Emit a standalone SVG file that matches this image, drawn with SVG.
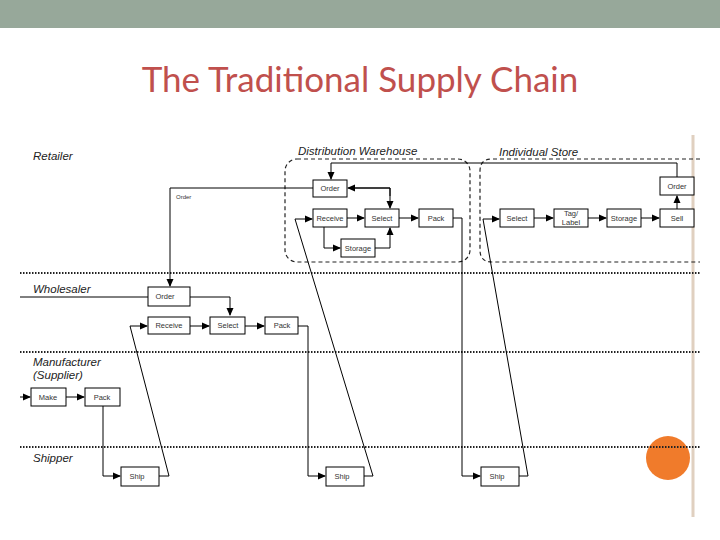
<svg xmlns="http://www.w3.org/2000/svg" width="720" height="540" viewBox="0 0 720 540">
<defs>
<marker id="a" markerWidth="8" markerHeight="8" refX="7" refY="4" orient="auto" markerUnits="userSpaceOnUse"><path d="M0,0.5 L8,4 L0,7.5 Z" fill="#000"/></marker>
<style>
.b{fill:#fff;stroke:#000;stroke-width:1}
.t{font-family:"Liberation Sans",Arial,sans-serif;font-size:7.5px;text-anchor:middle;fill:#333}
.l{font-family:"Liberation Sans",Arial,sans-serif;font-size:11.5px;font-style:italic;fill:#222}
.c{fill:none;stroke:#000;stroke-width:1}
.d{fill:none;stroke:#222;stroke-width:1.2;stroke-dasharray:4 3}
.s{stroke:#222;stroke-width:2;stroke-dasharray:1.5 1.5}
</style>
</defs>
<rect width="720" height="540" fill="#fff"/>
<rect width="720" height="28" fill="#97a89a"/>
<text x="360" y="92" font-family="Lato,'Open Sans',sans-serif" font-size="35" fill="#c0504d" text-anchor="middle">The Traditional Supply Chain</text>
<line x1="693" y1="135" x2="693" y2="517" stroke="#e0d0c0" stroke-width="3"/>
<circle cx="668" cy="458" r="22" fill="#f07b2b"/>
<g id="lanes">
<line class="s" x1="20" y1="273" x2="700" y2="273"/>
<line class="s" x1="20" y1="352" x2="700" y2="352"/>
<line class="s" x1="20" y1="447" x2="700" y2="447"/>
<text class="l" x="33" y="160">Retailer</text>
<text class="l" x="33" y="293">Wholesaler</text>
<text class="l" x="33" y="366">Manufacturer</text>
<text class="l" x="33" y="379">(Supplier)</text>
<text class="l" x="33" y="462">Shipper</text>
<text class="l" x="298" y="155">Distribution Warehouse</text>
<text class="l" x="499" y="156">Individual Store</text>
<rect class="d" x="285" y="159" width="185" height="103" rx="12"/>
<path class="d" d="M700,159 H492 Q480,159 480,171 V250 Q480,262 492,262 H700"/>
</g>
<g id="connectors">
<path class="c" d="M677,177 V163 H331 V179" marker-end="url(#a)"/>
<path class="c" d="M313,188 H170 V286" marker-end="url(#a)"/>
<text x="176" y="199" font-family="Liberation Sans,sans-serif" font-size="6" fill="#333">Order</text>
<path class="c" d="M355,188 H390 V208" marker-end="url(#a)"/>
<path class="c" d="M390,196 V188 H348" marker-end="url(#a)"/>
<line class="c" x1="347" y1="218" x2="364" y2="218" marker-end="url(#a)"/>
<line class="c" x1="399" y1="218" x2="418" y2="218" marker-end="url(#a)"/>
<path class="c" d="M324,227 V248 H340" marker-end="url(#a)"/>
<path class="c" d="M375,248 H390 V228" marker-end="url(#a)"/>
<path class="c" d="M453,218 H462 V476 H480" marker-end="url(#a)"/>
<path class="c" d="M519,476 H528 L483,219 H499" marker-end="url(#a)"/>
<line class="c" x1="534" y1="218" x2="553" y2="218" marker-end="url(#a)"/>
<line class="c" x1="588" y1="218" x2="606" y2="218" marker-end="url(#a)"/>
<line class="c" x1="641" y1="218" x2="659" y2="218" marker-end="url(#a)"/>
<line class="c" x1="677" y1="209" x2="677" y2="196" marker-end="url(#a)"/>
<path class="c" d="M20,297 H148"/>
<path class="c" d="M190,297 H230 V315" marker-end="url(#a)"/>
<line class="c" x1="190" y1="326" x2="209" y2="326" marker-end="url(#a)"/>
<line class="c" x1="245" y1="326" x2="264" y2="326" marker-end="url(#a)"/>
<path class="c" d="M298,326 H308 V476 H325" marker-end="url(#a)"/>
<path class="c" d="M364,476 H373 L295,219 H312" marker-end="url(#a)"/>
<path class="c" d="M159,476 H169 L130,326 H147" marker-end="url(#a)"/>
<line class="c" x1="20" y1="397" x2="30" y2="397" marker-end="url(#a)"/>
<line class="c" x1="66" y1="397" x2="84" y2="397" marker-end="url(#a)"/>
<path class="c" d="M103,406 V476 H120" marker-end="url(#a)"/>
</g>
<g id="dw-order"><rect class="b" x="313" y="180" width="34" height="17"/><text class="t" x="330" y="191">Order</text></g>
<g id="dw-receive"><rect class="b" x="313" y="209" width="34" height="18"/><text class="t" x="330" y="221">Receive</text></g>
<g id="dw-select"><rect class="b" x="365" y="209" width="34" height="18"/><text class="t" x="382" y="221">Select</text></g>
<g id="dw-pack"><rect class="b" x="419" y="209" width="34" height="18"/><text class="t" x="436" y="221">Pack</text></g>
<g id="dw-storage"><rect class="b" x="341" y="239" width="34" height="18"/><text class="t" x="358" y="251">Storage</text></g>
<g id="st-select"><rect class="b" x="500" y="209" width="34" height="18"/><text class="t" x="517" y="221">Select</text></g>
<g id="st-tag"><rect class="b" x="554" y="209" width="34" height="18"/><text class="t" x="571" y="216">Tag/</text><text class="t" x="571" y="225">Label</text></g>
<g id="st-storage"><rect class="b" x="607" y="209" width="34" height="18"/><text class="t" x="624" y="221">Storage</text></g>
<g id="st-sell"><rect class="b" x="660" y="209" width="34" height="18"/><text class="t" x="677" y="221">Sell</text></g>
<g id="st-order"><rect class="b" x="660" y="177" width="34" height="18"/><text class="t" x="677" y="189">Order</text></g>
<g id="w-order"><rect class="b" x="148" y="287" width="42" height="19"/><text class="t" x="165" y="299">Order</text></g>
<g id="w-receive"><rect class="b" x="148" y="317" width="42" height="17"/><text class="t" x="169" y="328">Receive</text></g>
<g id="w-select"><rect class="b" x="210" y="317" width="35" height="17"/><text class="t" x="228" y="328">Select</text></g>
<g id="w-pack"><rect class="b" x="265" y="317" width="33" height="17"/><text class="t" x="282" y="328">Pack</text></g>
<g id="m-make"><rect class="b" x="31" y="388" width="35" height="18"/><text class="t" x="48" y="400">Make</text></g>
<g id="m-pack"><rect class="b" x="85" y="388" width="35" height="18"/><text class="t" x="102" y="400">Pack</text></g>
<g id="ship1"><rect class="b" x="121" y="467" width="38" height="19"/><text class="t" x="137" y="479">Ship</text></g>
<g id="ship2"><rect class="b" x="326" y="467" width="38" height="19"/><text class="t" x="342" y="479">Ship</text></g>
<g id="ship3"><rect class="b" x="481" y="467" width="38" height="19"/><text class="t" x="497" y="479">Ship</text></g>
</svg>
